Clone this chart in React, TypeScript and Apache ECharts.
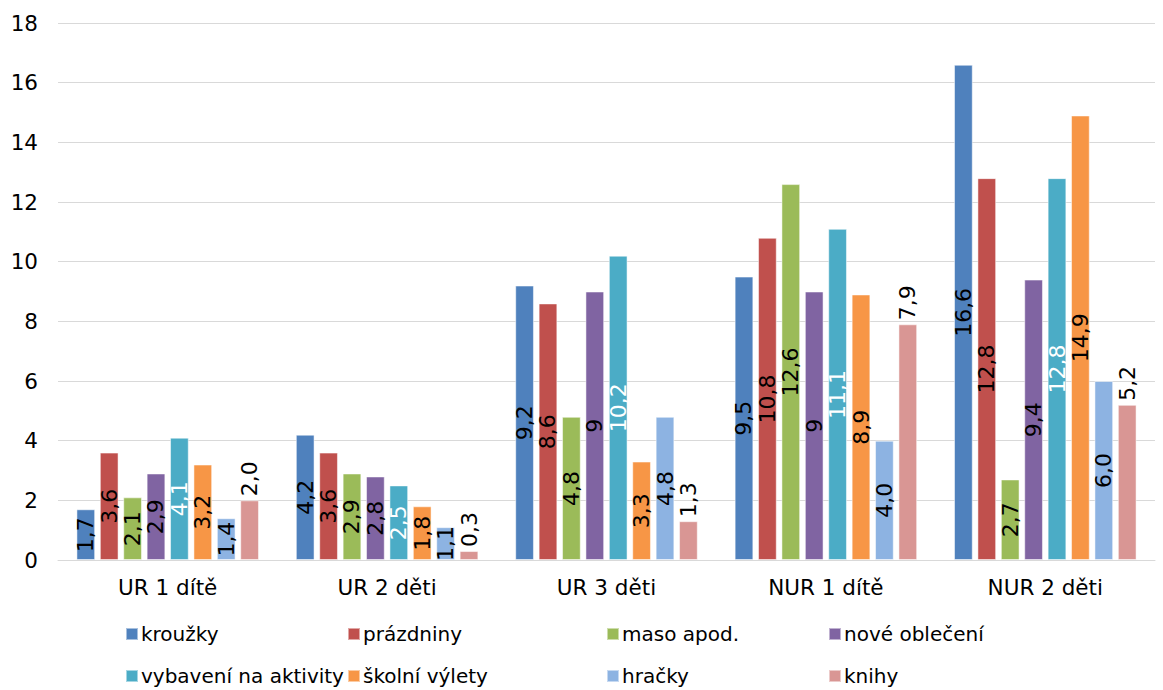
import React, { useEffect, useRef } from "react";
import * as echarts from "echarts";

const categories = ["UR 1 dítě", "UR 2 děti", "UR 3 děti", "NUR 1 dítě", "NUR 2 děti"];
const seriesNames = ["kroužky", "prázdniny", "maso apod.", "nové oblečení", "vybavení na aktivity", "školní výlety", "hračky", "knihy"];
const krouzky = [1.7, 4.2, 9.2, 9.5, 16.6];
const prazdniny = [3.6, 3.6, 8.6, 10.8, 12.8];
const maso = [2.1, 2.9, 4.8, 12.6, 2.7];
const obleceni = [2.9, 2.8, 9, 9, 9.4];
const vybaveni = [4.1, 2.5, 10.2, 11.1, 12.8];
const vylety = [3.2, 1.8, 3.3, 8.9, 14.9];
const hracky = [1.4, 1.1, 4.8, 4.0, 6.0];
const knihy = [2.0, 0.3, 1.3, 7.9, 5.2];
const seriesValues = [krouzky, prazdniny, maso, obleceni, vybaveni, vylety, hracky, knihy];
const colors = ["#4F81BD", "#C0504D", "#9BBB59", "#8064A2", "#4BACC6", "#F79646", "#8DB3E2", "#D99694"];
const yTicks = { min: 0, max: 18, interval: 2 };

const FONT = "'DejaVu Sans', Verdana, sans-serif";

export default function App() {
  const ref = useRef<HTMLDivElement>(null);
  useEffect(() => {
    document.body.style.margin = "0";
    const chart = echarts.init(ref.current!, null, { renderer: "svg" });
    const legendLefts = [125, 347, 606, 828];
    const legendTops = [624, 666];
    const legends = seriesNames.map((n, i) => ({
      data: [n],
      left: legendLefts[i % 4],
      top: legendTops[Math.floor(i / 4)],
      itemWidth: 12,
      itemHeight: 12,
      icon: "rect",
      padding: 0,
      textStyle: { fontFamily: FONT, fontSize: 20, color: "#000", padding: [0, 0, 0, -2] },
    }));
    const fmt = (i: number) => (p: any) => {
      const v = p.value as number;
      const s = i === 3 ? String(v) : v.toFixed(1);
      return s.replace(".", ",");
    };
    chart.setOption({
      animation: false,
      color: colors,
      grid: { left: 58, right: 8, top: 23, bottom: 130 },
      legend: legends,
      xAxis: {
        type: "category",
        data: categories,
        axisLine: { lineStyle: { color: "#D9D9D9", width: 1 } },
        axisTick: { show: false },
        axisLabel: { fontFamily: FONT, fontSize: 21.5, color: "#000", margin: 16 },
      },
      yAxis: {
        type: "value",
        min: yTicks.min,
        max: yTicks.max,
        interval: yTicks.interval,
        axisLine: { show: false },
        axisTick: { show: false },
        splitLine: { lineStyle: { color: "#D9D9D9", width: 1 } },
        axisLabel: { fontFamily: FONT, fontSize: 21.5, color: "#000", margin: 20 },
      },
      series: seriesNames.map((name, i) => ({
        name,
        type: "bar",
        data: seriesValues[i],
        barGap: "25%",
        barCategoryGap: "16.8%",
        itemStyle: { color: colors[i], borderColor: "rgba(255,255,255,0.5)", borderWidth: 1 },
        label: i === 7
          ? {
              show: true,
              position: "top",
              rotate: 90,
              align: "left",
              verticalAlign: "middle",
              distance: 4,
              fontFamily: FONT,
              fontSize: 22,
              color: "#000",
              formatter: fmt(i),
            }
          : {
              show: true,
              position: "inside",
              rotate: 90,
              fontFamily: FONT,
              fontSize: 22,
              color: i === 4 ? "#fff" : "#000",
              formatter: fmt(i),
            },
      })),
    });
    return () => chart.dispose();
  }, []);
  return <div ref={ref} style={{ width: 1163, height: 690 }} />;
}
